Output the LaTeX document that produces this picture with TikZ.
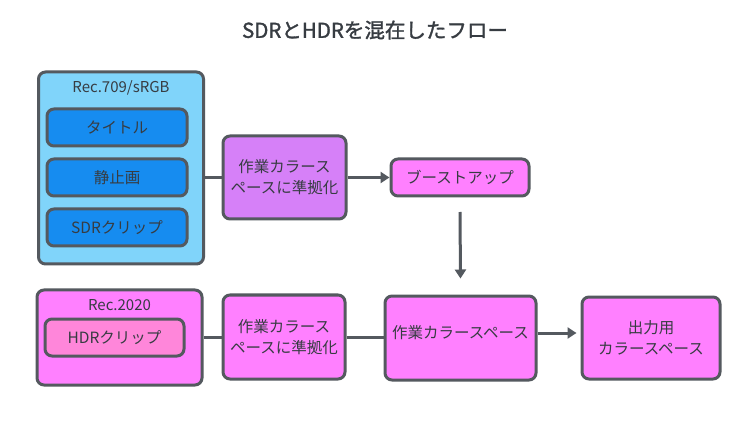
\documentclass[tikz,border=0pt]{standalone}
\usepackage{fontspec}
\setmainfont{Noto Sans CJK JP}
\newfontfamily\jpbold{Noto Sans CJK JP}[FakeBold=1.5]
\usetikzlibrary{arrows.meta}
\definecolor{strokec}{RGB}{84,89,95}
\definecolor{textc}{RGB}{55,60,66}
\definecolor{lightblue}{RGB}{128,212,250}
\definecolor{deepblue}{RGB}{22,140,240}
\definecolor{lav}{RGB}{214,128,248}
\definecolor{mag}{RGB}{255,128,255}
\definecolor{pinkc}{RGB}{255,134,218}
\tikzset{
  box/.style={draw=strokec, line width=3pt, rounded corners=7pt, text=textc, font=\fontsize{15.5}{21}\selectfont, align=center, inner sep=0pt},
  conn/.style={draw=strokec, line width=3pt},
  arr/.style={conn, -{Triangle[length=9pt,width=11pt]}},
}
\begin{document}
\begin{tikzpicture}[x=1pt,y=-1pt]
\useasboundingbox (0,0) rectangle (750,422);
\fill[white] (0,0) rectangle (750,422);
\node[text=textc, font=\jpbold\fontsize{20.5}{24}\selectfont] (title) at (375,30) {SDRとHDRを混在したフロー};
% SDR group
\node[box, fill=lightblue, minimum width=165pt, minimum height=192pt] (sdr) at (121,168) {};
\node[text=textc, font=\fontsize{15}{18}\selectfont] (sdrlbl) at (121,88) {Rec.709/sRGB};
\node[box, fill=deepblue, minimum width=140pt, minimum height=37pt] (t1) at (117,127.5) {タイトル};
\node[box, fill=deepblue, minimum width=140pt, minimum height=37pt] (t2) at (117,177.5) {静止画};
\node[box, fill=deepblue, minimum width=140pt, minimum height=37pt] (t3) at (117,227.5) {SDRクリップ};
\node[box, fill=lav, minimum width=123pt, minimum height=83pt] (p1) at (284.5,177.5) {作業カラース\\ペースに準拠化};
\node[box, fill=mag, minimum width=138pt, minimum height=37pt] (boost) at (460,177.5) {ブーストアップ};
% HDR group
\node[box, fill=mag, minimum width=165pt, minimum height=95pt] (hdr) at (119.5,337.5) {};
\node[text=textc, font=\fontsize{15}{18}\selectfont] (hdrlbl) at (119.5,305) {Rec.2020};
\node[box, fill=pinkc, minimum width=139pt, minimum height=37pt] (h1) at (114.5,337.5) {HDRクリップ};
\node[box, fill=mag, minimum width=122pt, minimum height=84pt] (p2) at (284,337) {作業カラース\\ペースに準拠化};
\node[box, fill=mag, minimum width=151pt, minimum height=84pt] (work) at (460.5,338) {};
\node[text=textc, font=\fontsize{15.5}{18}\selectfont] (worklbl) at (460.5,333) {作業カラースペース};
\node[box, fill=mag, minimum width=138pt, minimum height=82pt] (out) at (651,338) {出力用\\カラースペース};
% connectors
\draw[conn] (sdr.east |- p1.west) -- (p1.west);
\draw[arr] (p1.east) -- (boost.west);
\coordinate (vstart) at (460,212);
\draw[arr] (vstart) -- ([yshift=16pt]work.north);
\draw[conn] (hdr.east |- p2.west) -- (p2.west);
\draw[conn] (p2.east) -- (work.west |- p2.east);
\draw[arr] (work.east |- worklbl) -- ([xshift=-4pt]out.west |- worklbl);
\end{tikzpicture}
\end{document}
